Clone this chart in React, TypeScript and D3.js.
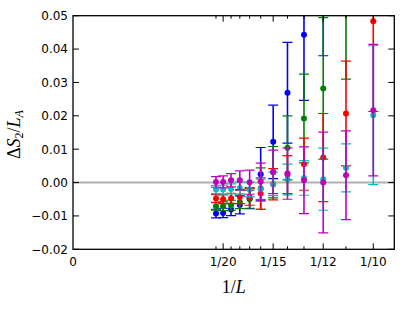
import React from "react";
import * as d3 from "d3";

const Ls = [21, 20, 19, 18, 17, 16, 15, 14, 13, 12, 11, 10];

const blueVal = [-0.0093, -0.0091, -0.0081, -0.0067, -0.0047, 0.0025, 0.0122, 0.0269, 0.0443, 0.065, null, null];
const blueErr = [0.0013, 0.0014, 0.0018, 0.0027, 0.0031, 0.008, 0.011, 0.0151, 0.0197, 0.027, null, null];

const greenVal = [-0.0071, -0.0071, -0.0068, -0.0058, -0.005, -0.0018, 0.0031, 0.0104, 0.0192, 0.0282, 0.058, null];
const greenErr = [0.0012, 0.0013, 0.0015, 0.002, 0.0027, 0.0062, 0.0077, 0.0096, 0.0133, 0.0212, 0.027, null];

const redVal = [-0.0048, -0.005, -0.0047, -0.0043, -0.0043, -0.0033, -0.0005, 0.0024, 0.0055, 0.0075, 0.0207, 0.0483];
const redErr = [0.0012, 0.0013, 0.0015, 0.002, 0.0025, 0.0047, 0.0047, 0.0057, 0.0078, 0.0132, 0.0157, 0.027];

const cyanVal = [-0.0021, -0.0021, -0.0019, -0.0016, -0.0021, -0.002, -0.0004, 0.0009, 0.0014, 0.001, 0.0044, 0.0202];
const cyanErr = [0.0012, 0.0013, 0.0015, 0.0018, 0.0022, 0.003, 0.0035, 0.0046, 0.0052, 0.0093, 0.0072, 0.0208];

const magentaVal = [0.0002, 0.0002, 0.0007, 0.0007, 0.0001, 0.0003, 0.0032, 0.0027, 0.0007, 0.0, 0.0022, 0.0217];
const magentaErr = [0.0016, 0.0018, 0.002, 0.0028, 0.0036, 0.0055, 0.0065, 0.0077, 0.01, 0.0151, 0.0133, 0.0197];

const seriesNames = ["blue", "green", "red", "cyan", "magenta"];
const seriesColors = ["#0000ff", "#008000", "#ff0000", "#00bfbf", "#bf00bf"];
const seriesVals = [blueVal, greenVal, redVal, cyanVal, magentaVal];
const seriesErrs = [blueErr, greenErr, redErr, cyanErr, magentaErr];

const yTicks = [-0.02, -0.01, 0.0, 0.01, 0.02, 0.03, 0.04, 0.05];
const xMajorL = [20, 15, 12, 10];
const xMinorL = [21, 19, 18, 17, 16, 14, 13, 11];

const W = 415;
const H = 312;
const left = 73;
const right = 394.3;
const top = 15.7;
const bottom = 249.3;

export default function App() {
  const x = d3.scaleLinear().domain([0, 0.107]).range([left, right]);
  const y = d3.scaleLinear().domain([-0.02, 0.05]).range([bottom, top]);
  const tickFont = "'DejaVu Sans', sans-serif";
  const fmt = (v: number) => {
    const s = d3.format(".2f")(Math.abs(v));
    return v < -1e-9 ? "\u2212" + s : s;
  };
  const capHalf = 5;

  return (
    <svg
      width={W}
      height={H}
      style={{ position: "fixed", left: 0, top: 0, background: "#fff" }}
      xmlns="http://www.w3.org/2000/svg"
    >
      <defs>
        <clipPath id="plotclip">
          <rect x={left} y={top} width={right - left} height={bottom - top} />
        </clipPath>
      </defs>
      <rect x={0} y={0} width={W} height={H} fill="#fff" />
      <line x1={left} x2={right} y1={y(0)} y2={y(0)} stroke="#b0b0b0" strokeWidth={2} />
      <g clipPath="url(#plotclip)">
        {seriesNames.map((name, si) => (
          <g key={name}>
            {Ls.map((L, i) => {
              const v = seriesVals[si][i];
              const e = seriesErrs[si][i];
              if (v === null || e === null) return null;
              const cx = x(1 / L);
              const y1 = y(v + e);
              const y0 = y(v - e);
              const c = seriesColors[si];
              return (
                <g key={L}>
                  <line x1={cx} x2={cx} y1={y1} y2={y0} stroke={c} strokeWidth={1.6} />
                  <line x1={cx - capHalf} x2={cx + capHalf} y1={y1} y2={y1} stroke={c} strokeWidth={1.2} />
                  <line x1={cx - capHalf} x2={cx + capHalf} y1={y0} y2={y0} stroke={c} strokeWidth={1.2} />
                  <circle cx={cx} cy={y(v)} r={3} fill={c} />
                </g>
              );
            })}
          </g>
        ))}
      </g>
      {yTicks.map((t) => (
        <g key={t}>
          <line x1={left} x2={left + 6} y1={y(t)} y2={y(t)} stroke="#000" strokeWidth={1} />
          <line x1={right} x2={right - 6} y1={y(t)} y2={y(t)} stroke="#000" strokeWidth={1} />
          <text
            x={left - 5}
            y={y(t)}
            dy="0.36em"
            textAnchor="end"
            fontFamily={tickFont}
            fontSize={12}
            fill="#000"
          >
            {fmt(t)}
          </text>
        </g>
      ))}
      {xMajorL.map((L) => (
        <g key={L}>
          <line x1={x(1 / L)} x2={x(1 / L)} y1={bottom} y2={bottom - 6} stroke="#000" strokeWidth={1} />
          <line x1={x(1 / L)} x2={x(1 / L)} y1={top} y2={top + 6} stroke="#000" strokeWidth={1} />
          <text
            x={x(1 / L)}
            y={bottom + 17}
            textAnchor="middle"
            fontFamily={tickFont}
            fontSize={12}
            fill="#000"
          >
            {"1/" + L}
          </text>
        </g>
      ))}
      {xMinorL.map((L) => (
        <g key={L}>
          <line x1={x(1 / L)} x2={x(1 / L)} y1={bottom} y2={bottom - 3} stroke="#000" strokeWidth={1} />
          <line x1={x(1 / L)} x2={x(1 / L)} y1={top} y2={top + 3} stroke="#000" strokeWidth={1} />
        </g>
      ))}
      <text x={x(0)} y={bottom + 17} textAnchor="middle" fontFamily={tickFont} fontSize={12} fill="#000">
        0
      </text>
      <rect
        x={left}
        y={top}
        width={right - left}
        height={bottom - top}
        fill="none"
        stroke="#000"
        strokeWidth={1.3}
      />
      <text
        x={(left + right) / 2}
        y={293}
        textAnchor="middle"
        fontFamily="'Liberation Serif', 'DejaVu Serif', serif"
        fontSize={18}
        fill="#000"
      >
        1/<tspan fontStyle="italic">L</tspan>
      </text>
      <text
        transform={`translate(20, ${(top + bottom) / 2 + 2}) rotate(-90)`}
        textAnchor="middle"
        fontFamily="'Liberation Serif', 'DejaVu Serif', serif"
        fontSize={18}
        fill="#000"
      >
        Δ<tspan fontStyle="italic">S</tspan>
        <tspan fontSize={12} dy={3}>2</tspan>
        <tspan dy={-3}>/</tspan>
        <tspan fontStyle="italic">L</tspan>
        <tspan fontSize={12} fontStyle="italic" dy={3}>A</tspan>
      </text>
    </svg>
  );
}
